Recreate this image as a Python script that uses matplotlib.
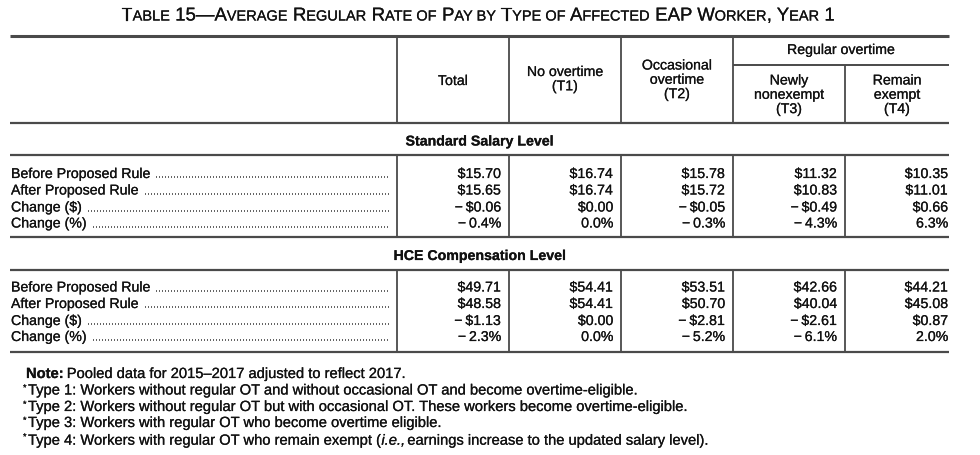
import matplotlib.pyplot as plt
import matplotlib.patheffects as pe
from matplotlib.offsetbox import TextArea, HPacker, AnnotationBbox

plt.rcParams['font.family'] = ['Liberation Sans', 'DejaVu Sans']

# Table data
col_heads = [["Total"], ["No overtime", "(T1)"], ["Occasional", "overtime", "(T2)"],
             ["Newly", "nonexempt", "(T3)"], ["Remain", "exempt", "(T4)"]]
row_labels = ["Before Proposed Rule", "After Proposed Rule", "Change ($)", "Change (%)"]
sections = ["Standard Salary Level", "HCE Compensation Level"]

std_before = [15.70, 16.74, 15.78, 11.32, 10.35]
std_after = [15.65, 16.74, 15.72, 10.83, 11.01]
std_chg = [-0.06, 0.00, -0.05, -0.49, 0.66]
std_pct = [-0.4, 0.0, -0.3, -4.3, 6.3]

hce_before = [49.71, 54.41, 53.51, 42.66, 44.21]
hce_after = [48.58, 54.41, 50.70, 40.04, 45.08]
hce_chg = [-1.13, 0.00, -2.81, -2.61, 0.87]
hce_pct = [-2.3, 0.0, -5.2, -6.1, 2.0]

notes = ["Type 1: Workers without regular OT and without occasional OT and become overtime-eligible.",
         "Type 2: Workers without regular OT but with occasional OT. These workers become overtime-eligible.",
         "Type 3: Workers with regular OT who become overtime eligible."]

MINUS = "\u2212\u2009"


def money(v):
    return (MINUS + "$%.2f" % -v) if v < 0 else "$%.2f" % v


def pct(v):
    return (MINUS + "%.1f%%" % -v) if v < 0 else "%.1f%%" % v


fig = plt.figure(figsize=(9.8, 4.56), dpi=100)
ax = fig.add_axes([0, 0, 1, 1])
ax.set_xlim(0, 980)
ax.set_ylim(456, 0)
ax.axis('off')

FS = 10.2
TC = '#111111'
LC = '#4a4a4a'
thick = [pe.withStroke(linewidth=0.15, foreground=TC)]

# title in small caps
title = [("T", 1), ("ABLE", 0), (" 15\u2014A", 1), ("VERAGE", 0), (" R", 1), ("EGULAR", 0),
         (" R", 1), ("ATE OF", 0), (" P", 1), ("AY BY", 0), (" T", 1), ("YPE OF", 0),
         (" A", 1), ("FFECTED", 0), (" EAP W", 1), ("ORKER", 0), (", Y", 1), ("EAR", 0), (" 1", 1)]
parts = [TextArea(s, textprops=dict(fontsize=13.4 if big else 10.5, color=TC, path_effects=thick))
         for s, big in title]
box = HPacker(children=parts, align="baseline", pad=0, sep=0)
ab = AnnotationBbox(box, (478, 17), xycoords='data', frameon=False, box_alignment=(0.5, 0.5), pad=0)
ax.add_artist(ab)

# grid lines
x0, x1 = 10, 949
vx = [397, 509, 621, 733, 845]
ax.hlines([37], x0, x1, color=LC, lw=2.2)
ax.hlines([124, 156, 238, 271, 353], x0, x1, color=LC, lw=1.6)
ax.hlines([66], vx[3], x1, color=LC, lw=1.4)
ax.vlines(vx[:4], 37, 124, color=LC, lw=1.3)
ax.vlines(vx[4:], 66, 124, color=LC, lw=1.3)
ax.vlines(vx, 156, 238, color=LC, lw=1.3)
ax.vlines(vx, 271, 353, color=LC, lw=1.3)

# column headers
centers = [(vx[i] + (vx[i + 1] if i < 4 else x1)) / 2 for i in range(5)]
first_base = [86, 77, 70.5, 85.5, 85.5]
for c, lines, b in zip(centers, col_heads, first_base):
    for k, t in enumerate(lines):
        ax.text(c, b + k * 14.3, t, ha='center', va='baseline', fontsize=FS, color=TC)
ax.text((vx[3] + x1) / 2, 55, "Regular overtime", ha='center', va='baseline', fontsize=FS, color=TC)

# body
right = [501, 613, 725, 837, 948]
blocks = [(std_before, std_after, std_chg, std_pct), (hce_before, hce_after, hce_chg, hce_pct)]
sec_base = [146.5, 261]
row_base = [[179, 195.5, 212.5, 228.5], [292.5, 309, 326, 342]]
fig.canvas.draw()
r = fig.canvas.get_renderer()
inv = ax.transData.inverted()
for s in range(2):
    ax.text((x0 + x1) / 2, sec_base[s], sections[s], ha='center', va='baseline',
            fontsize=FS, fontweight='bold', color=TC)
    b, a, c, p = blocks[s]
    vals = [[money(v) for v in b], [money(v) for v in a], [money(v) for v in c], [pct(v) for v in p]]
    for i, lab in enumerate(row_labels):
        y = row_base[s][i]
        t = ax.text(11, y, lab, ha='left', va='baseline', fontsize=FS, color=TC)
        bb = t.get_window_extent(r)
        xe = inv.transform((bb.x1, bb.y0))[0]
        ax.plot([xe + 6, 389], [y - 1, y - 1], color='#222222', lw=1.2,
                linestyle=(0, (0.5, 1.3)), dash_capstyle='butt')
        for j in range(5):
            ax.text(right[j], y, vals[i][j], ha='right', va='baseline', fontsize=FS, color=TC)

# notes
NFS = 10.6
n = ax.text(26, 379, "Note:", ha='left', va='baseline', fontsize=NFS, fontweight='bold', color=TC)
bb = n.get_window_extent(r)
xe = inv.transform((bb.x1, bb.y0))[0]
ax.text(xe + 3, 379, "Pooled data for 2015\u20132017 adjusted to reflect 2017.", ha='left',
        va='baseline', fontsize=NFS, color=TC)
nb = [395.5, 412, 428, 444.5]
for k, t in enumerate(notes):
    ax.text(23, nb[k] - 4, "*", fontsize=6.5, ha='left', va='baseline', color=TC)
    ax.text(28, nb[k], t, ha='left', va='baseline', fontsize=NFS, color=TC)
ax.text(23, nb[3] - 4, "*", fontsize=6.5, ha='left', va='baseline', color=TC)
t4 = [TextArea("Type 4: Workers with regular OT who remain exempt (", textprops=dict(fontsize=NFS, color=TC, path_effects=thick)),
      TextArea("i.e.,", textprops=dict(fontsize=NFS, style='italic', color=TC, path_effects=thick)),
      TextArea(" earnings increase to the updated salary level).", textprops=dict(fontsize=NFS, color=TC, path_effects=thick))]
hb = HPacker(children=t4, align="baseline", pad=0, sep=-1.5)
ab2 = AnnotationBbox(hb, (28, nb[3]), xycoords='data', frameon=False, box_alignment=(0, 0.3), pad=0)
ax.add_artist(ab2)

# slightly heavier strokes like the printed original
for t in ax.texts:
    t.set_path_effects(thick)

fig.savefig("out.png", dpi=100)
